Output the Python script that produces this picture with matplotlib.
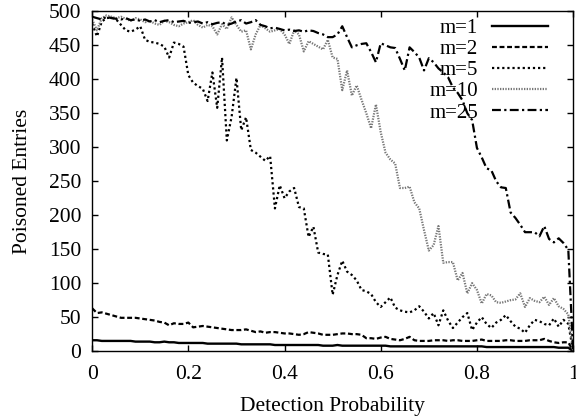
import numpy as np
import matplotlib.pyplot as plt

plt.rcParams['font.family'] = ['Liberation Serif', 'DejaVu Serif']

detection = np.linspace(0, 1, 101)

m1 = [16, 16, 15, 15, 15, 15, 15, 15, 15, 14,
      14, 14, 14, 13, 13, 14, 13, 13, 12, 12,
      12, 12, 12, 12, 11, 11, 11, 11, 11, 11,
      11, 10, 10, 10, 10, 10, 10, 10, 9, 9,
      9, 9, 9, 9, 9, 9, 9, 9, 8, 8,
      8, 9, 8, 8, 8, 8, 8, 8, 8, 8,
      8, 8, 7, 7, 7, 7, 7, 7, 7, 7,
      7, 7, 7, 7, 7, 7, 7, 7, 7, 7,
      7, 7, 6, 6, 6, 6, 6, 6, 6, 6,
      6, 6, 6, 6, 6, 6, 6, 5, 5, 5,
      0]

m2 = [63, 56, 57, 55, 53, 51, 49, 49, 49, 49,
      48, 47, 46, 45, 43, 42, 38, 41, 40, 40,
      42, 35, 36, 37, 36, 35, 34, 33, 32, 31,
      31, 31, 32, 30, 28, 29, 27, 28, 28, 27,
      26, 26, 25, 24, 25, 28, 27, 26, 24, 24,
      24, 25, 26, 26, 25, 25, 24, 19, 19, 18,
      20, 21, 18, 17, 16, 18, 21, 16, 15, 15,
      15, 16, 16, 16, 15, 16, 16, 15, 15, 15,
      16, 17, 15, 15, 15, 15, 16, 16, 15, 15,
      15, 16, 16, 16, 18, 15, 13, 12, 13, 13,
      0]

m5 = [482, 463, 485, 490, 491, 488, 480, 472, 470, 473,
      478, 458, 455, 454, 452, 448, 432, 454, 452, 448,
      406, 395, 390, 386, 368, 410, 358, 432, 310, 345,
      402, 325, 344, 296, 292, 286, 280, 287, 210, 244,
      225, 235, 240, 212, 210, 168, 183, 145, 143, 142,
      83, 112, 133, 117, 112, 104, 90, 88, 84, 72,
      65, 72, 79, 64, 60, 58, 57, 60, 66, 58,
      48, 56, 38, 60, 45, 34, 42, 50, 56, 31,
      42, 50, 40, 34, 42, 46, 53, 44, 36, 33,
      27, 38, 46, 44, 40, 38, 48, 36, 46, 40,
      0]

m10 = [488, 472, 490, 494, 492, 490, 492, 489, 486, 490,
       488, 484, 486, 482, 480, 486, 484, 480, 478, 482,
       484, 487, 480, 476, 480, 478, 466, 481, 474, 491,
       480, 470, 472, 444, 466, 480, 475, 470, 472, 474,
       466, 452, 472, 466, 441, 456, 452, 448, 444, 458,
       432, 430, 384, 413, 376, 391, 370, 350, 328, 363,
       322, 292, 282, 276, 240, 240, 242, 219, 210, 178,
       148, 156, 184, 130, 131, 131, 104, 115, 85, 100,
       90, 70, 84, 82, 72, 71, 73, 75, 76, 85,
       65, 78, 74, 72, 80, 68, 78, 66, 62, 54,
       0]

m25 = [492, 490, 488, 492, 490, 489, 488, 490, 487, 488,
       486, 488, 485, 487, 484, 486, 487, 484, 485, 486,
       483, 484, 485, 482, 484, 481, 483, 484, 480, 482,
       485, 487, 482, 484, 487, 480, 478, 475, 476, 474,
       472, 473, 471, 472, 470, 472, 471, 468, 466, 462,
       462, 466, 478, 462, 447, 450, 452, 453, 440, 425,
       453, 450, 447, 446, 430, 413, 447, 440, 432, 413,
       431, 425, 416, 410, 403, 388, 380, 369, 350, 340,
       299, 285, 269, 266, 250, 241, 240, 204, 196, 186,
       175, 175, 175, 169, 184, 165, 160, 166, 159, 149,
       0]

fig = plt.figure(figsize=(5.76, 4.19), dpi=100)
ax = fig.add_axes([0.160, 0.162, 0.835, 0.811])

ax.plot(detection, m1, color='black', lw=1.7, label='m=1')
ax.plot(detection, m2, color='black', lw=1.6, dashes=(2.2, 1.2), label='m=2')
ax.plot(detection, m5, color='black', lw=1.6, dashes=(1, 1.3), label='m=5')
ax.plot(detection, m10, color='#777777', lw=1.6, dashes=(0.6, 0.6), label='m=10')
ax.plot(detection, m25, color='black', lw=1.6, dashes=(4, 1.5, 1, 1.5), label='m=25')

ax.set_xlim(0, 1)
ax.set_ylim(0, 500)
ax.set_xticks([0, 0.2, 0.4, 0.6, 0.8, 1])
ax.set_xticklabels(['0', '0.2', '0.4', '0.6', '0.8', '1'])
ax.set_yticks(range(0, 501, 50))
ax.tick_params(direction='in', length=4.5, width=1, top=True, right=True,
               labelsize=15.5, pad=8)
ax.tick_params(axis='x', pad=10)
for s in ax.spines.values():
    s.set_linewidth(1)

ax.set_xlabel('Detection Probability', fontsize=15.5, labelpad=9)
ax.set_ylabel('Poisoned Entries', fontsize=15.5, labelpad=12)

ax.legend(loc='upper right', bbox_to_anchor=(0.948, 0.978), frameon=False,
          markerfirst=False, fontsize=15, handlelength=2.7,
          handletextpad=0.65, labelspacing=0.07, borderpad=0, borderaxespad=0)

plt.savefig('out.png', dpi=100)
